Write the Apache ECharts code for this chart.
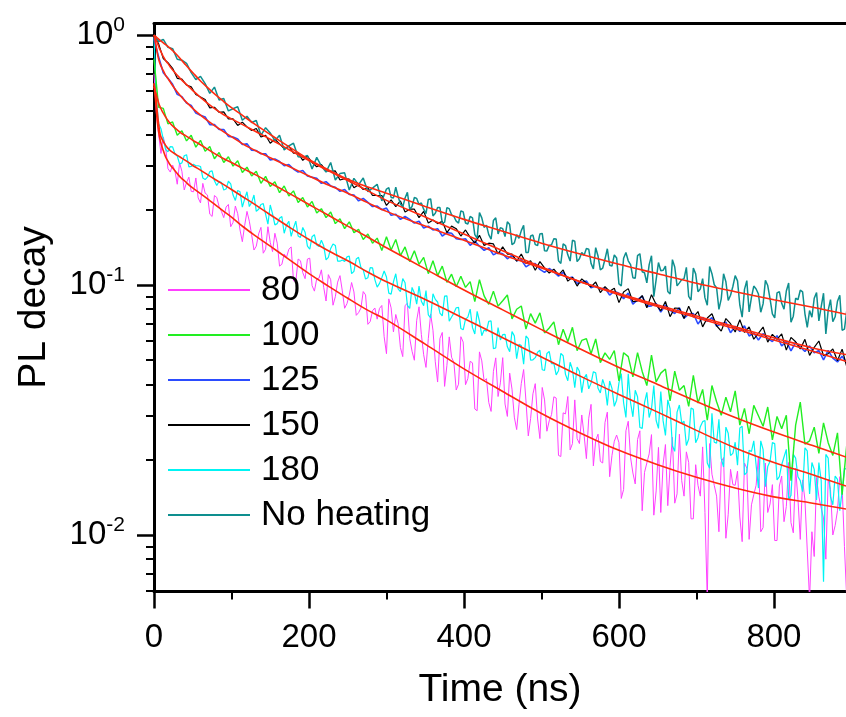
<!DOCTYPE html>
<html><head><meta charset="utf-8">
<script src="https://cdn.jsdelivr.net/npm/echarts@6/dist/echarts.min.js"></script>
<style>html,body{margin:0;padding:0;background:#fff}#c{width:846px;height:717px}</style>
</head><body><div id="c"></div>
<script>
// time axis (ns) of measured decays
const times = [0,6,12,18,24,30,36,42,48,54,60,66,72,78,84,90,96,102,108,114,120,126,132,138,144,150,156,162,168,174,180,186,192,198,204,210,216,222,228,234,240,246,252,258,264,270,276,282,288,294,300,306,312,318,324,330,336,342,348,354,360,366,372,378,384,390,396,402,408,414,420,426,432,438,444,450,456,462,468,474,480,486,492,498,504,510,516,522,528,534,540,546,552,558,564,570,576,582,588,594,600,606,612,618,624,630,636,642,648,654,660,666,672,678,684,690,696,702,708,714,720,726,732,738,744,750,756,762,768,774,780,786,792,798,804,810,816,822,828,834,840,846,852,858,864,870,876,882,888,894];
// extra in-between times for the noisiest decays
const timesMid = [3,9,15,21,27,33,39,45,51,57,63,69,75,81,87,93,99,105,111,117,123,129,135,141,147,153,159,165,171,177,183,189,195,201,207,213,219,225,231,237,243,249,255,261,267,273,279,285,291,297,303,309,315,321,327,333,339,345,351,357,363,369,375,381,387,393,399,405,411,417,423,429,435,441,447,453,459,465,471,477,483,489,495,501,507,513,519,525,531,537,543,549,555,561,567,573,579,585,591,597,603,609,615,621,627,633,639,645,651,657,663,669,675,681,687,693,699,705,711,717,723,729,735,741,747,753,759,765,771,777,783,789,795,801,807,813,819,825,831,837,843,849,855,861,867,873,879,885,891];
const timesMidLate = [303,309,315,321,327,333,339,345,351,357,363,369,375,381,387,393,399,405,411,417,423,429,435,441,447,453,459,465,471,477,483,489,495,501,507,513,519,525,531,537,543,549,555,561,567,573,579,585,591,597,603,609,615,621,627,633,639,645,651,657,663,669,675,681,687,693,699,705,711,717,723,729,735,741,747,753,759,765,771,777,783,789,795,801,807,813,819,825,831,837,843,849,855,861,867,873,879,885,891];

const d80 = [0.70,0.399,0.391,0.292,0.302,0.253,0.285,0.257,0.237,0.268,
0.213,0.233,0.192,0.228,0.206,0.186,0.210,0.178,0.193,0.149,
0.197,0.159,0.143,0.170,0.139,0.148,0.161,0.119,0.133,0.139,
0.104,0.127,0.112,0.127,0.0994,0.106,0.115,0.0863,0.105,0.0898,
0.109,0.0807,0.0911,0.0938,0.0775,0.0941,0.0696,0.0789,0.073,0.0828,
0.0531,0.081,0.0762,0.0562,0.0828,0.0611,0.05,0.0818,0.0526,0.061,
0.0659,0.0409,0.0646,0.0477,0.0514,0.038,0.0621,0.0399,0.0495,0.0319,
0.054,0.0413,0.0339,0.0451,0.0358,0.0512,0.0298,0.0383,0.0264,0.0404,
0.0344,0.0292,0.0403,0.0243,0.0347,0.0286,0.0357,0.0208,0.0308,0.0358,
0.0232,0.0243,0.0302,0.0202,0.0333,0.0239,0.0197,0.0282,0.0171,0.0237,
0.0234,0.0152,0.0285,0.0177,0.0241,0.0125,0.0194,0.0252,0.015,0.0123,
0.023,0.0188,0.0134,0.0253,0.0143,0.0195,0.0116,0.0158,0.0225,0.0055,
0.0175,0.0143,0.0196,0.0097,0.0183,0.0158,0.0118,0.0194,0.0096,0.0145,
0.0206,0.0107,0.0123,0.0159,0.0095,0.0172,0.013,0.0112,0.0185,0.0096,
0.0138,0.0055,0.0082,0.0142,0.0117,0.0167,0.01,0.0125,0.0156,0.0055];
const d80Mid = [0.49,0.336,0.356,0.283,0.286,0.308,0.240,0.270,0.236,0.223,
0.255,0.229,0.188,0.224,0.197,0.205,0.171,0.207,0.166,0.173,
0.180,0.138,0.160,0.134,0.171,0.136,0.147,0.121,0.129,0.142,
0.103,0.125,0.106,0.128,0.0945,0.1065,0.0978,0.110,0.083,0.1027,
0.0948,0.0842,0.1023,0.0756,0.0808,0.0913,0.0714,0.0809,0.0806,0.0621,
0.088,0.0649,0.0701,0.0517,0.0845,0.0543,0.0722,0.0634,0.0468,0.0766,
0.0493,0.0611,0.0393,0.062,0.049,0.0401,0.0591,0.0422,0.0488,0.0314,
0.0497,0.0422,0.0312,0.0511,0.0406,0.0334,0.0444,0.0296,0.0332,0.0459,
0.0249,0.0367,0.0291,0.0389,0.026,0.0303,0.0353,0.0206,0.0305,0.0219,
0.0347,0.0232,0.0251,0.0293,0.0189,0.0253,0.0194,0.031,0.0208,0.0251,
0.014,0.0261,0.0204,0.016,0.0261,0.0178,0.0211,0.012,0.0224,0.0192,
0.0131,0.0246,0.0146,0.0165,0.0215,0.0116,0.0191,0.0143,0.0123,0.0232,
0.0158,0.0103,0.0204,0.0121,0.0159,0.018,0.0094,0.0185,0.0132,0.0158,
0.0103,0.0194,0.0133,0.0095,0.0157,0.0113,0.0195,0.0102,0.0139,0.0166,
0.0087,0.0103,0.017,0.0128,0.008,0.0152,0.0109,0.0171,0.009];

const d100 = [0.80,0.514,0.509,0.441,0.449,0.397,0.414,0.377,0.397,0.356,
0.379,0.343,0.358,0.320,0.339,0.309,0.326,0.299,0.314,0.282,
0.296,0.273,0.285,0.255,0.272,0.248,0.259,0.234,0.249,0.227,
0.238,0.214,0.224,0.205,0.216,0.194,0.202,0.186,0.196,0.176,
0.184,0.168,0.179,0.162,0.167,0.152,0.160,0.147,0.154,0.1375,
0.156,0.138,0.152,0.131,0.142,0.124,0.137,0.121,0.129,0.111,
0.125,0.109,0.119,0.1025,0.1105,0.0984,0.1084,0.0978,0.1032,0.0858,
0.105,0.0905,0.0837,0.0945,0.0823,0.0865,0.0912,0.0732,0.08,0.0824,
0.0666,0.0768,0.0704,0.0774,0.0643,0.0673,0.0712,0.0577,0.0665,0.0593,
0.0677,0.0546,0.06,0.061,0.0531,0.0608,0.0489,0.0535,0.0504,0.0547,
0.0413,0.0536,0.0517,0.0429,0.0536,0.0451,0.0396,0.0524,0.0409,0.0444,
0.0461,0.0344,0.0452,0.0379,0.0396,0.0327,0.0435,0.0337,0.0382,0.0288,
0.0396,0.0341,0.0301,0.0356,0.0311,0.0377,0.0275,0.0321,0.0254,0.033,
0.03,0.0272,0.0325,0.024,0.0298,0.0266,0.0301,0.0165,0.0275,0.034,
0.0231,0.0238,0.027,0.0212,0.0281,0.0234,0.0208,0.0256,0.0145,0.023];

const d125 = [0.97,0.816,0.707,0.672,0.635,0.579,0.567,0.534,0.523,0.487,
0.478,0.470,0.438,0.438,0.419,0.419,0.393,0.391,0.384,0.365,
0.367,0.346,0.345,0.335,0.335,0.316,0.319,0.312,0.300,0.303,
0.291,0.283,0.287,0.273,0.270,0.267,0.255,0.259,0.249,0.246,
0.237,0.241,0.230,0.229,0.217,0.222,0.214,0.206,0.207,0.200,
0.203,0.190,0.192,0.183,0.188,0.183,0.177,0.180,0.169,0.172,
0.166,0.168,0.157,0.162,0.161,0.153,0.152,0.153,0.144,0.150,
0.143,0.1375,0.141,0.132,0.135,0.1334,0.1273,0.1316,0.1251,0.1262,
0.1182,0.1214,0.1219,0.1154,0.1123,0.1164,0.1128,0.1086,0.1124,0.1064,
0.1075,0.1015,0.1025,0.1038,0.0974,0.099,0.0964,0.0973,0.0911,0.0944,
0.0926,0.0881,0.0928,0.0838,0.0873,0.0903,0.0821,0.0825,0.0844,0.0779,
0.0832,0.0793,0.0769,0.0811,0.0737,0.0765,0.0769,0.0698,0.0742,0.0716,
0.0741,0.0685,0.0698,0.071,0.0644,0.0684,0.0652,0.0687,0.0625,0.0644,
0.0602,0.0639,0.0612,0.0594,0.0627,0.057,0.0595,0.0545,0.0589,0.0565,
0.0542,0.0571,0.0535,0.0547,0.0502,0.0548,0.051,0.0492,0.0519,0.0485];

const d150 = [0.99,0.922,0.805,0.775,0.736,0.671,0.666,0.631,0.621,0.578,
0.565,0.552,0.511,0.514,0.491,0.493,0.462,0.462,0.435,0.448,
0.429,0.415,0.423,0.391,0.397,0.369,0.383,0.367,0.351,0.359,
0.337,0.337,0.315,0.328,0.309,0.297,0.303,0.287,0.285,0.286,
0.263,0.266,0.265,0.245,0.252,0.241,0.245,0.228,0.228,0.228,
0.208,0.219,0.206,0.217,0.196,0.201,0.201,0.186,0.197,0.177,
0.182,0.176,0.180,0.162,0.172,0.168,0.157,0.166,0.155,0.147,
0.158,0.144,0.147,0.146,0.133,0.142,0.133,0.133,0.1245,0.133,
0.122,0.125,0.1145,0.124,0.117,0.1116,0.1157,0.1097,0.1149,0.1036,
0.1073,0.099,0.1058,0.1019,0.0982,0.1028,0.0933,0.0985,0.0943,0.0971,
0.085,0.0938,0.0967,0.0858,0.0863,0.0907,0.0811,0.0915,0.0835,0.0788,
0.0859,0.0747,0.0809,0.0806,0.0734,0.0822,0.0744,0.0783,0.068,0.0738,
0.0767,0.0687,0.0654,0.0734,0.07,0.0649,0.0726,0.0646,0.068,0.0607,
0.064,0.0679,0.0591,0.0635,0.0606,0.0637,0.0549,0.0617,0.0593,0.0555,
0.0606,0.0523,0.0563,0.0597,0.0521,0.0531,0.0555,0.0498,0.0554,0.047];

const d180 = [0.98,0.442,0.383,0.341,0.357,0.328,0.308,0.332,0.298,0.300,
0.298,0.264,0.284,0.261,0.260,0.240,0.260,0.229,0.239,0.205,
0.236,0.214,0.197,0.210,0.192,0.209,0.174,0.185,0.161,0.180,
0.169,0.157,0.170,0.143,0.156,0.1445,0.151,0.126,0.140,0.144,
0.1245,0.1243,0.1305,0.1134,0.129,0.115,0.107,0.117,0.098,0.107,
0.1076,0.0919,0.1109,0.0941,0.1021,0.0806,0.0929,0.0991,0.0827,0.0759,
0.0922,0.0855,0.0752,0.0905,0.0745,0.0811,0.067,0.073,0.0801,0.0637,
0.0716,0.0661,0.0716,0.0556,0.0676,0.0633,0.0566,0.0651,0.0507,0.0572,
0.0625,0.05,0.0512,0.0548,0.0455,0.0542,0.0486,0.0454,0.0521,0.0414,
0.0459,0.047,0.0371,0.0439,0.0405,0.0445,0.037,0.0392,0.0413,0.0327,
0.0406,0.0338,0.0441,0.0297,0.0357,0.0267,0.0372,0.0319,0.0287,0.0375,
0.025,0.032,0.0216,0.0331,0.0285,0.0242,0.0318,0.0245,0.0284,0.0194,
0.0307,0.0233,0.0202,0.027,0.0208,0.0235,0.0268,0.0174,0.0218,0.0238,
0.0154,0.022,0.0188,0.0234,0.0166,0.0191,0.022,0.0144,0.0203,0.0165,
0.0223,0.0146,0.0183,0.0195,0.0065,0.0203,0.0132,0.0167,0.015,0.0183];
const d180Mid = [0.56,0.422,0.349,0.358,0.335,0.305,0.329,0.297,0.304,0.300,
0.268,0.270,0.286,0.250,0.257,0.242,0.254,0.218,0.236,0.221,
0.206,0.229,0.201,0.2115,0.175,0.1925,0.176,0.188,0.1735,0.1566,
0.180,0.155,0.1625,0.139,0.159,0.1425,0.1435,0.129,0.146,0.1246,
0.1258,0.1295,0.111,0.127,0.1177,0.1056,0.1174,0.1051,0.1015,0.1138,
0.0928,0.103,0.0965,0.1061,0.0828,0.0978,0.0838,0.0861,0.0949,0.0739,
0.0876,0.0772,0.0902,0.0717,0.0772,0.0814,0.0662,0.0744,0.0675,0.0785,
0.0627,0.0654,0.0718,0.056,0.0603,0.0635,0.0541,0.0626,0.0579,0.0482,
0.061,0.0502,0.0538,0.0458,0.0532,0.0484,0.0437,0.0533,0.0439,0.0491,
0.0388,0.0452,0.0424,0.0384,0.045,0.0386,0.0419,0.033,0.0386,0.0346,
0.0442,0.0295,0.0338,0.0379,0.0269,0.0338,0.0295,0.0396,0.0267,0.0286,
0.0347,0.0227,0.031,0.028,0.0228,0.0322,0.0234,0.0271,0.0287,0.0185,
0.0235,0.029,0.0187,0.0255,0.0212,0.019,0.0272,0.0178,0.0216,0.019,
0.0238,0.0156,0.0197,0.0232,0.0171,0.0205,0.0139,0.021,0.0171,0.0149,
0.0217,0.0195,0.0138,0.0165,0.021,0.0142,0.0172,0.0125,0.0185];

const dNoHeating = [1.0,0.942,0.960,0.893,0.882,0.800,0.793,0.771,0.707,0.663,
0.683,0.639,0.584,0.619,0.550,0.557,0.497,0.507,0.517,0.456,
0.473,0.447,0.455,0.397,0.426,0.406,0.378,0.397,0.347,0.360,
0.369,0.326,0.324,0.330,0.291,0.324,0.299,0.283,0.309,0.263,
0.279,0.281,0.240,0.267,0.252,0.268,0.236,0.244,0.253,0.217,
0.242,0.224,0.246,0.211,0.223,0.201,0.224,0.210,0.201,0.220,
0.189,0.204,0.177,0.204,0.191,0.180,0.198,0.177,0.188,0.159,
0.195,0.170,0.159,0.181,0.160,0.168,0.179,0.145,0.159,0.165,
0.135,0.157,0.145,0.160,0.137,0.144,0.153,0.125,0.146,0.132,
0.151,0.124,0.135,0.140,0.122,0.141,0.115,0.127,0.120,0.132,
0.101,0.128,0.125,0.107,0.131,0.113,0.102,0.131,0.105,0.114,
0.119,0.092,0.118,0.102,0.106,0.090,0.117,0.094,0.106,0.083,
0.111,0.0975,0.088,0.103,0.091,0.109,0.083,0.096,0.078,0.099,
0.092,0.084,0.0995,0.0766,0.093,0.0845,0.0946,0.071,0.0885,0.0953,
0.0767,0.079,0.0885,0.0718,0.0927,0.0791,0.0713,0.0861,0.0659,0.0792];
const dNoHeatingMid = [0.245,0.223,0.226,0.205,0.235,0.206,0.222,0.213,0.193,0.221,
0.1935,0.204,0.178,0.202,0.188,0.1767,0.196,0.1754,0.1855,0.1538,
0.1856,0.1734,0.1524,0.1857,0.1696,0.1562,0.1745,0.1474,0.1538,0.1734,
0.135,0.1584,0.1439,0.1609,0.1369,0.145,0.1528,0.1219,0.1438,0.1246,
0.1496,0.1274,0.1315,0.1391,0.1159,0.1306,0.1167,0.1396,0.1191,0.1283,
0.0992,0.1349,0.1206,0.1065,0.1334,0.1119,0.1207,0.0898,0.123,0.1145,
0.0942,0.1263,0.0992,0.1051,0.1177,0.0871,0.1108,0.0964,0.0888,0.1185,
0.1002,0.0799,0.1109,0.0868,0.0986,0.1039,0.0744,0.1041,0.0892,0.0964,
0.0778,0.1044,0.088,0.0738,0.094,0.08,0.1018,0.075,0.0873,0.0938,
0.0677,0.0743,0.0932,0.0819,0.0637,0.0874,0.0746,0.0909,0.0666];

// fitted curves (red)
const fitTimes = [0,2,4,6,8,10,12,15,18,21,25,30,35,40,46,52,60,70,80,90,100,115,130,150,175,200,225,250,275,300,350,400,450,500,550,600,650,700,750,800,850,893];
const f80 = [0.64,0.55,0.46,0.41,0.38,0.36,0.345,0.325,0.313,0.302,0.292,0.279,0.268,0.26,0.25,0.242,0.232,0.22,0.208,0.197,0.187,0.171,0.158,0.143,0.126,0.111,0.099,0.0885,0.0795,0.0725,0.058,0.0462,0.0375,0.0306,0.0256,0.0218,0.0191,0.017,0.0154,0.0142,0.0134,0.0127];
const f100 = [0.62,0.59,0.563,0.535,0.515,0.50,0.487,0.47,0.455,0.443,0.43,0.417,0.405,0.397,0.387,0.376,0.364,0.348,0.333,0.32,0.309,0.292,0.277,0.256,0.232,0.210,0.190,0.172,0.156,0.141,0.116,0.0955,0.0795,0.0663,0.0555,0.0468,0.040,0.0342,0.0295,0.0258,0.0228,0.0205];
const f125 = [1.0,0.93,0.855,0.80,0.765,0.74,0.72,0.69,0.67,0.648,0.621,0.592,0.568,0.545,0.523,0.502,0.478,0.452,0.43,0.41,0.392,0.366,0.346,0.323,0.297,0.273,0.251,0.233,0.214,0.197,0.172,0.151,0.132,0.117,0.103,0.0915,0.082,0.074,0.0668,0.0603,0.0543,0.0495];
const f150 = [1.0,0.965,0.935,0.90,0.87,0.845,0.82,0.79,0.77,0.745,0.72,0.69,0.665,0.642,0.617,0.592,0.563,0.53,0.503,0.48,0.462,0.437,0.413,0.383,0.347,0.315,0.286,0.262,0.239,0.218,0.187,0.160,0.137,0.118,0.103,0.0925,0.0832,0.0752,0.068,0.0615,0.056,0.0527];
const f180 = [0.64,0.58,0.50,0.44,0.40,0.385,0.375,0.362,0.352,0.345,0.338,0.33,0.323,0.316,0.307,0.298,0.288,0.275,0.263,0.252,0.241,0.225,0.21,0.191,0.170,0.152,0.137,0.125,0.113,0.103,0.0875,0.0735,0.0615,0.0515,0.0432,0.0365,0.031,0.0262,0.0223,0.0195,0.0174,0.0157];
const fNoHeating = [1.0,0.988,0.975,0.963,0.951,0.94,0.93,0.915,0.90,0.884,0.86,0.83,0.797,0.765,0.729,0.696,0.655,0.613,0.575,0.542,0.512,0.475,0.44,0.40,0.356,0.318,0.289,0.265,0.247,0.233,0.206,0.183,0.164,0.147,0.133,0.121,0.111,0.1016,0.094,0.0873,0.0815,0.0764];

const legendNames = ['80','100','125','150','180','No heating'];
const xMajorTicks = [0,200,400,600,800];
const xMinorTicks = [100,300,500,700];
const yMajorTicks = [0.01,0.1,1];
const yMinorTicks = [0.006,0.007,0.008,0.009,0.02,0.03,0.04,0.05,0.06,0.07,0.08,0.09,0.2,0.3,0.4,0.5,0.6,0.7,0.8,0.9];
const xMin = 0, xMax = 893, yMin = 0.00594, yMax = 1.112;

const FONT = '"Liberation Sans", Arial, Helvetica, sans-serif';
const RED = '#ff2a10';
function pairs(t, v) { return t.map((x, i) => [x, v[i]]); }
function merged(t1, v1, t2, v2) { return pairs(t1, v1).concat(pairs(t2, v2)).sort((a, b) => a[0] - b[0]); }

const dataDefs = [
  {name: '80', data: merged(times, d80, timesMid, d80Mid), color: '#ff40ff', w: 1},
  {name: '180', data: merged(times, d180, timesMid, d180Mid), color: '#00f4f4', w: 1.2},
  {name: '100', data: pairs(times, d100), color: '#22ee22', w: 1.4},
  {name: '125', data: pairs(times, d125), color: '#2b4cff', w: 1.6},
  {name: '150', data: pairs(times, d150), color: '#000000', w: 1.2},
  {name: 'No heating', data: merged(times, dNoHeating, timesMidLate, dNoHeatingMid), color: '#0e8f8f', w: 1.5}
];
const fitDefs = [f80, f180, f100, f125, f150, fNoHeating];

const series = [];
dataDefs.forEach(d => {
  series.push({
    name: d.name, type: 'line', data: d.data,
    showSymbol: false, symbol: 'none', color: d.color,
    lineStyle: {color: d.color, width: d.w}, z: 2, silent: true
  });
});
fitDefs.forEach(f => {
  series.push({
    type: 'line', data: pairs(fitTimes, f), smooth: 0.35,
    showSymbol: false, symbol: 'none', color: RED,
    lineStyle: {color: RED, width: 1.6}, z: 3, silent: true
  });
});

const axisBase = {min: xMin, max: xMax, type: 'value', splitLine: {show: false}};
const option = {
  animation: false,
  backgroundColor: '#ffffff',
  grid: {left: 154, right: 0, top: 23.5, bottom: 125.5, containLabel: false, outerBoundsMode: 'none'},
  legend: {
    data: legendNames, orient: 'vertical', left: 162, top: 267, padding: 5,
    itemWidth: 82, itemHeight: 4, itemGap: 9,
    itemStyle: {opacity: 0, borderWidth: 0},
    textStyle: {fontSize: 35, fontFamily: FONT, color: '#000', lineHeight: 36, padding: [0, 0, 0, 6]},
    selectedMode: false
  },
  xAxis: [
    Object.assign({}, axisBase, {
      position: 'bottom',
      axisLine: {show: true, onZero: false, lineStyle: {color: '#000', width: 3}},
      axisTick: {show: true, length: 17, customValues: xMajorTicks, lineStyle: {color: '#000', width: 2.5}},
      axisLabel: {show: true, customValues: xMajorTicks, margin: 30, fontSize: 33, fontFamily: FONT, color: '#000'},
      name: 'Time (ns)', nameLocation: 'middle', nameGap: 79,
      nameTextStyle: {fontSize: 39, fontFamily: FONT, color: '#000'}
    }),
    Object.assign({}, axisBase, {
      position: 'bottom',
      axisLine: {show: false, onZero: false},
      axisTick: {show: true, length: 8, customValues: xMinorTicks, lineStyle: {color: '#000', width: 2}},
      axisLabel: {show: false}
    }),
    Object.assign({}, axisBase, {
      position: 'top',
      axisLine: {show: true, onZero: false, lineStyle: {color: '#000', width: 3}},
      axisTick: {show: false}, axisLabel: {show: false}
    })
  ],
  yAxis: [
    {
      type: 'log', logBase: 10, min: yMin, max: yMax, position: 'left',
      axisLine: {show: true, onZero: false, lineStyle: {color: '#000', width: 3}},
      axisTick: {show: true, length: 17, customValues: yMajorTicks, lineStyle: {color: '#000', width: 2.5}},
      axisLabel: {
        show: true, customValues: yMajorTicks, margin: 29,
        formatter: v => '{b|10}{s|' + Math.round(Math.log10(v)) + '}',
        rich: {
          b: {fontSize: 33, fontFamily: FONT, color: '#000', lineHeight: 40},
          s: {fontSize: 21, fontFamily: FONT, color: '#000', lineHeight: 21, verticalAlign: 'top'}
        }
      },
      splitLine: {show: false}, minorTick: {show: false},
      name: 'PL decay', nameLocation: 'middle', nameGap: 100,
      nameTextStyle: {fontSize: 39, fontFamily: FONT, color: '#000'}
    },
    {
      type: 'log', logBase: 10, min: yMin, max: yMax, position: 'left',
      axisLine: {show: false, onZero: false},
      axisTick: {show: true, length: 8, customValues: yMinorTicks, lineStyle: {color: '#000', width: 2}},
      axisLabel: {show: false}, splitLine: {show: false}
    }
  ],
  series: series
};
const chart = echarts.init(document.getElementById('c'), null, {renderer: 'canvas'});
chart.setOption(option);
</script>
</body></html>
